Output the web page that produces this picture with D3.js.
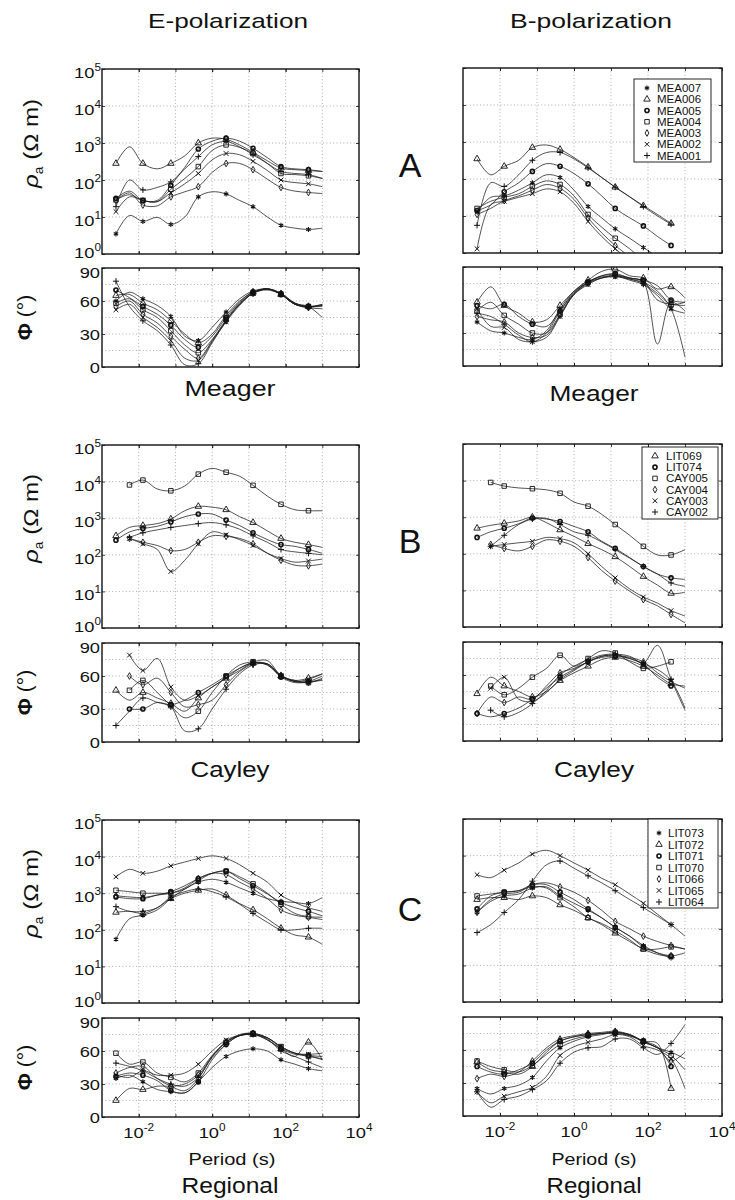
<!DOCTYPE html>
<html>
<head>
<meta charset="utf-8">
<script src="https://cdn.jsdelivr.net/npm/d3@7/dist/d3.min.js"></script>
<style>
  html, body { margin: 0; padding: 0; background: #fff; }
  svg { display: block; }
  text { font-family: "Liberation Sans", Arial, Helvetica, sans-serif; fill: #111; }
</style>
</head>
<body>
<svg id="fig" width="735" height="1200"></svg>
<script>
// ---- shared axes -------------------------------------------------------
// Period samples (s) used by every sounding curve
const periods = [0.0024, 0.0056, 0.013, 0.032, 0.075, 0.18, 0.42, 1, 2.4, 5.6, 13, 32, 75, 180, 420, 1000];
const periodTicks = [1e-2, 1, 1e2, 1e4];
const periodTickExp = ["-2", "0", "2", "4"];
const periodGrid = [1e-2, 1e-1, 1, 10, 100, 1000];
const rhoTicks = [1, 10, 100, 1000, 1e4, 1e5];
const rhoTickExp = ["0", "1", "2", "3", "4", "5"];
const rhoGrid = [10, 100, 1000, 1e4];
const phaseTicks = [0, 30, 60, 90];
const phaseGrid = [15, 30, 45, 60, 75];

// ---- A: Meager ---------------------------------------------------------
const sitesMeager = ["MEA007", "MEA006", "MEA005", "MEA004", "MEA003", "MEA002", "MEA001"];
const marksMeager = ["asterisk", "triangle", "circle", "square", "diamond", "times", "plus"];
// apparent resistivity, ohm-m
const rhoE_Meager = [
  [3.5, 11, 7.6, 9.8, 6.3, 10, 35, 48, 42, 28, 19, 10, 6.0, 5.0, 4.6, 5.0],
  [280, 790, 280, 200, 280, 450, 1000, 1350, 1260, 890, 560, 330, 210, 190, 180, 170],
  [32, 50, 28, 28, 72, 220, 690, 1120, 1350, 1120, 720, 400, 230, 200, 190, 170],
  [29, 40, 28, 26, 56, 110, 230, 630, 890, 760, 520, 280, 150, 140, 130, 110],
  [28, 45, 21, 20, 35, 48, 66, 160, 280, 280, 190, 105, 63, 50, 46, 43],
  [14, 35, 28, 26, 45, 79, 150, 350, 520, 480, 320, 180, 100, 85, 79, 66],
  [19, 100, 54, 63, 89, 200, 430, 890, 1100, 790, 480, 280, 170, 150, 140, 110]
];
const rhoB_Meager = [
  [13, 32, 35, 50, 79, 130, 110, 50, 18, 8.9, 4.5, 2.5, 1.4, 0.79, null, null],
  [350, 130, 220, 320, 710, 830, 630, 380, 210, 110, 60, 33, 19, 11, 6.3, null],
  [14, 20, 45, 79, 160, 260, 220, 140, 74, 35, 16, 8.9, 5.4, 2.8, 1.6, null],
  [16, 25, 32, 40, 63, 89, 71, 35, 11, 5.0, 2.5, 1.3, 0.63, null, null, null],
  [11, 16, 26, 35, 50, 71, 56, 28, 8.9, 3.5, 1.6, 0.79, null, null, null, null],
  [1.3, 20, 25, 32, 40, 54, 45, 22, 7.1, 2.8, 1.3, 0.63, null, null, null, null],
  [5.6, 79, 63, 130, 320, 520, 520, 350, 200, 110, 60, 33, 18, 10, 6.0, null]
];
// impedance phase, degrees
const phiE_Meager = [
  [60, 68, 62, 56, 46, 28, 24, 36, 50, 62, 69, 71, 66, 57, 54, 57],
  [65, 66, 58, 52, 42, 30, 22, 30, 47, 60, 68, 71, 66, 57, 55, 56],
  [70, 63, 55, 48, 38, 25, 18, 28, 45, 59, 68, 71, 66, 57, 55, 55],
  [58, 62, 52, 45, 33, 20, 13, 25, 43, 58, 67, 71, 66, 58, 55, 57],
  [55, 60, 48, 40, 28, 16, 8, 24, 42, 57, 67, 71, 67, 58, 54, 53],
  [52, 57, 45, 36, 24, 8, 6, 23, 41, 56, 67, 71, 67, 58, 55, 45],
  [78, 55, 42, 33, 20, 2, 3, 22, 42, 57, 67, 70, 66, 57, 55, 56]
];
const phiB_Meager = [
  [40, 32, 30, 26, 24, 32, 52, 68, 77, 81, 82, 78, 74, 64, 52, 48],
  [58, 72, 55, 48, 40, 42, 55, 68, 78, 86, 88, 82, 80, 70, 72, 62],
  [55, 52, 56, 45, 38, 36, 50, 66, 76, 82, 84, 80, 78, 73, 60, 58],
  [50, 58, 46, 38, 30, 30, 47, 66, 76, 82, 83, 80, 77, 60, 56, 55],
  [45, 42, 40, 30, 26, 28, 46, 65, 75, 80, 82, 80, 76, 20, 58, 50],
  [52, 36, 35, 24, 22, 26, 45, 65, 74, 80, 81, 79, 76, 68, 52, 8],
  [48, 45, 38, 28, 22, 30, 50, 67, 76, 80, 82, 79, 75, 66, 56, 58]
];

// ---- B: Cayley ---------------------------------------------------------
const sitesCayley = ["LIT069", "LIT074", "CAY005", "CAY004", "CAY003", "CAY002"];
const marksCayley = ["triangle", "circle", "square", "diamond", "times", "plus"];
const rhoE_Cayley = [
  [330, 560, 630, 710, 950, 1600, 2100, 2000, 1700, 1100, 760, 450, 280, 220, 190, 160],
  [250, 420, 520, 600, 790, 1100, 1300, 1300, 890, 630, 400, 260, 190, 170, 140, 110],
  [null, 8100, 11000, 6300, 5600, 7600, 16000, 23000, 18000, 14000, 7900, 4000, 2400, 1700, 1600, 1600],
  [null, 280, 220, 180, 130, 140, 220, 330, 320, 280, 200, 110, 71, 52, 50, 56],
  [null, 280, 200, 140, 35, 71, 200, 420, 350, 260, 180, 110, 79, 63, 68, 76],
  [null, 300, 400, 480, 560, 630, 710, 760, 660, 500, 330, 220, 140, 120, 110, 100]
];
const rhoB_Cayley = [
  [500, 600, 680, 790, 1000, 710, 450, 300, 190, 130, 83, 45, 24, 14, 8.3, 8.9],
  [280, 400, 500, 660, 950, 890, 760, 560, 400, 220, 140, 79, 45, 28, 22, 20],
  [null, 8900, 7100, 6300, 6000, 5600, 4500, 2600, 2000, 1200, 630, 320, 160, 93, 93, 130],
  [null, 180, 140, 120, 160, 240, 220, 160, 79, 35, 18, 9.5, 5.6, 3.8, 2.2, 1.3],
  [null, 160, 180, 200, 220, 280, 260, 200, 100, 45, 22, 11, 6.6, 4.5, 2.8, 2.0],
  [null, 160, 320, 630, 890, 930, 630, 400, 320, 210, 130, 76, 45, 28, 16, 13]
];
const phiE_Cayley = [
  [47, 38, 45, 40, 35, 28, 40, 50, 58, 65, 72, 71, 60, 56, 58, 62],
  [null, 30, 30, 36, 34, 38, 45, 52, 60, 67, 72, 70, 59, 54, 55, 60],
  [null, 47, 56, 45, 33, 22, 28, 45, 60, 70, 73, 74, 60, 56, 54, 58],
  [null, 60, 52, 58, 45, 32, 34, 38, 52, 64, 71, 71, 60, 55, 54, 57],
  [null, 79, 65, 76, 50, 38, 42, 50, 58, 67, 72, 70, 60, 55, 57, 62],
  [15, 28, 40, 36, 32, 10, 12, 30, 48, 62, 70, 71, 61, 55, 55, 56]
];
const phiB_Cayley = [
  [43, 58, 50, 45, 40, 45, 55, 62, 68, 74, 76, 73, 68, 60, 52, 50],
  [25, 22, 25, 30, 38, 48, 58, 65, 72, 76, 77, 75, 70, 58, 50, null],
  [null, 50, 42, 48, 58, 66, 78, 68, 75, 82, 80, 72, 66, 68, 72, null],
  [25, 40, 35, 40, 38, 50, 62, 66, 72, 77, 78, 76, 72, 62, 54, 48],
  [null, 48, 58, 38, 36, 44, 56, 64, 72, 77, 78, 75, 70, 65, 55, 30],
  [null, 28, 22, 26, 34, 46, 60, 68, 74, 78, 79, 77, 71, 87, 56, 28]
];

// ---- C: Regional -------------------------------------------------------
const sitesRegional = ["LIT073", "LIT072", "LIT071", "LIT070", "LIT066", "LIT065", "LIT064"];
const marksRegional = ["asterisk", "triangle", "circle", "square", "diamond", "times", "plus"];
const rhoE_Regional = [
  [55, 200, 250, 350, 710, 1300, 2000, 2400, 2000, 1400, 1000, 710, 600, 560, 520, 760],
  [300, 320, 280, 400, 710, 1000, 1200, 1300, 890, 520, 350, 200, 110, 72, 63, 40],
  [790, 710, 710, 890, 1100, 1600, 2500, 3500, 4000, 2500, 1600, 950, 560, 400, 320, 240],
  [1200, 1100, 1000, 1000, 1000, 1300, 2200, 3500, 4000, 2800, 1800, 1000, 500, 280, 230, 220],
  [850, 790, 760, 890, 1000, 1400, 2500, 3500, 3200, 2000, 1300, 710, 350, 250, 220, 190],
  [2800, 4500, 3500, 4000, 5600, 7100, 8900, 10500, 8900, 6000, 3500, 2000, 890, 560, 400, 320],
  [430, 320, 320, 400, 790, 1100, 1300, 1100, 790, 500, 280, 160, 100, 100, 110, 110]
];
const rhoB_Regional = [
  [280, 560, 790, 890, 1300, 1400, 790, 500, 320, 200, 110, 63, 35, 22, 16, null],
  [630, 710, 710, 630, 790, 710, 450, 320, 200, 130, 76, 45, 28, 20, 18, 22],
  [350, 790, 1000, 1100, 1600, 1600, 1000, 630, 350, 200, 110, 63, 32, 22, 18, null],
  [790, 890, 1000, 1100, 1400, 1300, 710, 400, 200, 140, 89, 50, 28, 28, 32, 28],
  [280, 630, 890, 1000, 1600, 1800, 1400, 1000, 600, 320, 160, 100, 63, 45, 35, 28],
  [3000, 2500, 4000, 6300, 11000, 14000, 10000, 6300, 4000, 2400, 1600, 890, 500, 250, 130, 63],
  [79, 130, 280, 630, 2000, 5600, 7100, 4500, 2800, 1800, 1100, 630, 380, 220, 130, null]
];
const phiE_Regional = [
  [35, 38, 32, 25, 23, 22, 32, 45, 55, 60, 62, 60, 52, 48, 44, 42],
  [15, 26, 25, 28, 28, 30, 38, 55, 68, 74, 75, 70, 62, 55, 68, 52],
  [37, 40, 38, 33, 24, 22, 32, 52, 66, 74, 76, 70, 62, 57, 56, 52],
  [58, 48, 50, 40, 36, 32, 40, 56, 68, 74, 76, 72, 64, 58, 55, 53],
  [40, 45, 46, 35, 28, 24, 35, 55, 68, 75, 76, 72, 63, 58, 56, 55],
  [38, 36, 42, 38, 38, 40, 48, 60, 70, 74, 75, 72, 64, 58, 57, 58],
  [49, 46, 42, 35, 30, 28, 36, 54, 66, 74, 75, 71, 60, 55, 50, 45]
];
const phiB_Regional = [
  [25, 20, 25, 28, 35, 50, 62, 68, 72, 74, 76, 73, 68, 62, 58, 52],
  [49, 42, 40, 38, 45, 58, 68, 72, 74, 75, 76, 74, 68, 66, 25, null],
  [45, 40, 38, 42, 48, 60, 68, 72, 74, 75, 75, 73, 68, 63, 45, null],
  [50, 45, 42, 40, 46, 56, 65, 70, 73, 75, 76, 74, 68, 62, 55, 42],
  [34, 38, 36, 40, 50, 62, 70, 73, 75, 76, 77, 74, 67, 62, 50, 58],
  [22, 12, 18, 22, 26, 36, 55, 63, 67, 70, 74, 72, 64, 60, 52, 25],
  [22, 8, 15, 18, 24, 32, 48, 58, 62, 63, 70, 70, 62, 56, 66, 83]
];

// ---- layout ------------------------------------------------------------
const svg = d3.select("#fig");
const cols = { E: [102, 359], B: [463, 722] };
const regions = [
  { name: "Meager", letter: "A", letterY: 177, sites: sitesMeager, marks: marksMeager,
    rhoE: rhoE_Meager, rhoB: rhoB_Meager, phiE: phiE_Meager, phiB: phiB_Meager,
    rho: [69, 254], phi: [268, 367], nameY: [396, 401], nameW: [91, 89],
    legend: { x: 634, y: 79, w: 77, h: 83, mx: 647, tx: 657, row0: 88, step: 11.25 } },
  { name: "Cayley", letter: "B", letterY: 553, sites: sitesCayley, marks: marksCayley,
    rhoE: rhoE_Cayley, rhoB: rhoB_Cayley, phiE: phiE_Cayley, phiB: phiB_Cayley,
    rho: [445, 628], phi: [643, 742], nameY: [777, 777], nameW: [79, 80],
    legend: { x: 642, y: 447, w: 76, h: 72, mx: 655, tx: 666, row0: 456, step: 11.2 } },
  { name: "Regional", letter: "C", letterY: 921, sites: sitesRegional, marks: marksRegional,
    rhoE: rhoE_Regional, rhoB: rhoB_Regional, phiE: phiE_Regional, phiB: phiB_Regional,
    rho: [820, 1003], phi: [1018, 1117], nameY: [1193, 1193], nameW: [97, 95],
    legend: { x: 648, y: 819, w: 70, h: 89, mx: 659, tx: 668, row0: 833, step: 11.5 } }
];

const symbolType = {
  asterisk: d3.symbolAsterisk, triangle: d3.symbolTriangle2, circle: d3.symbolCircle,
  square: d3.symbolSquare2, diamond: d3.symbolDiamond, times: d3.symbolTimes, plus: d3.symbolPlus
};
const symbolSize = { asterisk: 18, triangle: 30, circle: 13, square: 26, diamond: 13, times: 16, plus: 14 };
const symbolStroke = { asterisk: 1.1, triangle: 0.9, circle: 1.6, square: 0.9, diamond: 0.9, times: 1.0, plus: 1.0 };
function marker(name) { return d3.symbol().type(symbolType[name]).size(symbolSize[name])(); }

const defs = svg.append("defs");
let clipCount = 0;

// text stretched horizontally to the wide lettering of the figure
function wideText(parent, x, y, size, anchor, sx) {
  return parent.append("text")
    .attr("transform", `translate(${x},${y}) scale(${sx},1)`)
    .attr("font-size", size).attr("text-anchor", anchor);
}
function fitText(x, y, str, size, width) {
  svg.append("text").attr("x", x).attr("y", y).attr("font-size", size)
    .attr("text-anchor", "middle").attr("textLength", width)
    .attr("lengthAdjust", "spacingAndGlyphs").text(str);
}

function drawPanel(opt) {
  const [x0, x1] = opt.xr, [y0, y1] = opt.yr;
  const x = d3.scaleLog().domain([1e-3, 1e4]).range([x0, x1]);
  const y = opt.kind === "rho"
    ? d3.scaleLog().domain([1, 1e5]).range([y1, y0])
    : d3.scaleLinear().domain([0, 90]).range([y1, y0]);
  const g = svg.append("g");

  // dotted grid
  const gridY = opt.kind === "rho" ? rhoGrid : phaseGrid;
  g.append("g").selectAll("line").data(periodGrid).join("line")
    .attr("x1", d => x(d)).attr("x2", d => x(d)).attr("y1", y0).attr("y2", y1)
    .attr("stroke", "#777").attr("stroke-width", 0.6).attr("stroke-dasharray", "1,2.4");
  g.append("g").selectAll("line").data(gridY).join("line")
    .attr("x1", x0).attr("x2", x1).attr("y1", d => y(d)).attr("y2", d => y(d))
    .attr("stroke", "#777").attr("stroke-width", 0.6).attr("stroke-dasharray", "1,2.4");

  // inward tick marks via d3 axes
  const yTicks = opt.kind === "rho" ? rhoTicks : phaseTicks;
  const tickStyle = s => { s.select(".domain").remove(); s.selectAll(".tick line").attr("stroke", "#111").attr("stroke-width", 0.8); s.selectAll(".tick text").remove(); };
  g.append("g").attr("transform", `translate(0,${y1})`)
    .call(d3.axisBottom(x).tickValues(periodTicks.concat(periodGrid)).tickSize(-3)).call(tickStyle);
  g.append("g").attr("transform", `translate(0,${y0})`)
    .call(d3.axisTop(x).tickValues(periodTicks.concat(periodGrid)).tickSize(-3)).call(tickStyle);
  g.append("g").attr("transform", `translate(${x0},0)`)
    .call(d3.axisLeft(y).tickValues(yTicks).tickSize(-3)).call(tickStyle);
  g.append("g").attr("transform", `translate(${x1},0)`)
    .call(d3.axisRight(y).tickValues(yTicks).tickSize(-3)).call(tickStyle);

  // clipped data
  const id = "clip" + (clipCount++);
  defs.append("clipPath").attr("id", id).append("rect")
    .attr("x", x0).attr("y", y0).attr("width", x1 - x0).attr("height", y1 - y0);
  const data = g.append("g").attr("clip-path", `url(#${id})`);
  const line = d3.line().defined(d => d[1] != null)
    .x(d => x(d[0])).y(d => y(d[1])).curve(d3.curveCatmullRom.alpha(0.5));

  opt.series.forEach((vals, k) => {
    const pts = periods.map((p, i) => [p, vals[i]]);
    data.append("path").attr("d", line(pts)).attr("fill", "none")
      .attr("stroke", "#1a1a1a").attr("stroke-width", 0.75);
    const first = vals.findIndex(v => v != null);
    const mk = pts.filter((d, i) => d[1] != null && (i % 2 === 0 || i === first));
    const name = opt.marks[k];
    data.append("g").selectAll("path").data(mk).join("path")
      .attr("transform", d => `translate(${x(d[0])},${y(d[1])})`)
      .attr("d", marker(name)).attr("fill", "none")
      .attr("stroke", "#111").attr("stroke-width", symbolStroke[name]);
  });

  // frame
  g.append("rect").attr("x", x0).attr("y", y0).attr("width", x1 - x0).attr("height", y1 - y0)
    .attr("fill", "none").attr("stroke", "#111").attr("stroke-width", 1.4);

  // tick labels
  if (opt.leftLabels) {
    if (opt.kind === "rho") {
      rhoTicks.forEach((t, i) => {
        // the lowest decade label sits a little higher to clear the phase axis below
        const dy = i === 0 ? 4 : 9;
        const tx = wideText(g, x0 - 1, y(t) + dy, 15.5, "end", 1.18);
        tx.append("tspan").text("10");
        tx.append("tspan").attr("font-size", 10).attr("dy", -7).text(rhoTickExp[i]);
      });
    } else {
      phaseTicks.forEach(t => {
        const dy = t === 90 ? 10 : 6;
        wideText(g, x0 - 2, y(t) + dy, 15.5, "end", 1.18).text(String(t));
      });
    }
  }
  if (opt.bottomLabels) {
    periodTicks.forEach((t, i) => {
      const tx = wideText(g, x(t), y1 + 21, 15.5, "middle", 1.18);
      tx.append("tspan").text("10");
      tx.append("tspan").attr("font-size", 10).attr("dy", -7).text(periodTickExp[i]);
    });
  }
  return g;
}

function drawLegend(r) {
  const L = r.legend;
  const g = svg.append("g");
  g.append("rect").attr("x", L.x).attr("y", L.y).attr("width", L.w).attr("height", L.h)
    .attr("fill", "#fff").attr("stroke", "#111").attr("stroke-width", 0.9);
  r.sites.forEach((s, i) => {
    const yy = L.row0 + i * L.step;
    g.append("path").attr("transform", `translate(${L.mx},${yy})`)
      .attr("d", marker(r.marks[i])).attr("fill", "none")
      .attr("stroke", "#111").attr("stroke-width", symbolStroke[r.marks[i]]);
    g.append("text").attr("x", L.tx).attr("y", yy + 4).attr("font-size", 11.5).text(s);
  });
}

// column titles
fitText(228, 28, "E-polarization", 21, 160);
fitText(591, 28, "B-polarization", 21, 162);

regions.forEach((r, ri) => {
  const last = ri === regions.length - 1;
  // E-polarization column
  drawPanel({ xr: cols.E, yr: r.rho, kind: "rho", series: r.rhoE, marks: r.marks, leftLabels: true });
  drawPanel({ xr: cols.E, yr: r.phi, kind: "phi", series: r.phiE, marks: r.marks, leftLabels: true, bottomLabels: last });
  // B-polarization column
  drawPanel({ xr: cols.B, yr: [r.rho[0] - 1, r.rho[1] - 1], kind: "rho", series: r.rhoB, marks: r.marks });
  drawPanel({ xr: cols.B, yr: [r.phi[0] - 1, r.phi[1] - 1], kind: "phi", series: r.phiB, marks: r.marks, bottomLabels: last });
  drawLegend(r);

  // y-axis titles
  const rc = (r.rho[0] + r.rho[1]) / 2 - 18;
  const rl = svg.append("text").attr("transform", `translate(38,${rc}) rotate(-90) scale(1.15,1)`)
    .attr("font-size", 21).attr("text-anchor", "middle");
  rl.append("tspan").attr("font-style", "italic").text("ρ");
  rl.append("tspan").attr("font-size", 12).attr("dy", 5).text("a");
  rl.append("tspan").attr("dy", -5).text(" (Ω m)");
  const pc = (r.phi[0] + r.phi[1]) / 2;
  const pl = svg.append("text").attr("transform", `translate(32,${pc}) rotate(-90)`)
    .attr("font-size", 21).attr("text-anchor", "middle");
  pl.append("tspan").attr("font-weight", "bold").text("Φ");
  pl.append("tspan").text(" (°)");

  // region letter and names
  svg.append("text").attr("x", 410).attr("y", r.letterY).attr("font-size", 34)
    .attr("text-anchor", "middle").text(r.letter);
  fitText(230, r.nameY[0], r.name, 22, r.nameW[0]);
  fitText(594, r.nameY[1], r.name, 22, r.nameW[1]);
  if (last) {
    fitText(232, 1165, "Period (s)", 17, 87);
    fitText(594, 1165, "Period (s)", 17, 85);
  }
});
</script>
</body>
</html>
